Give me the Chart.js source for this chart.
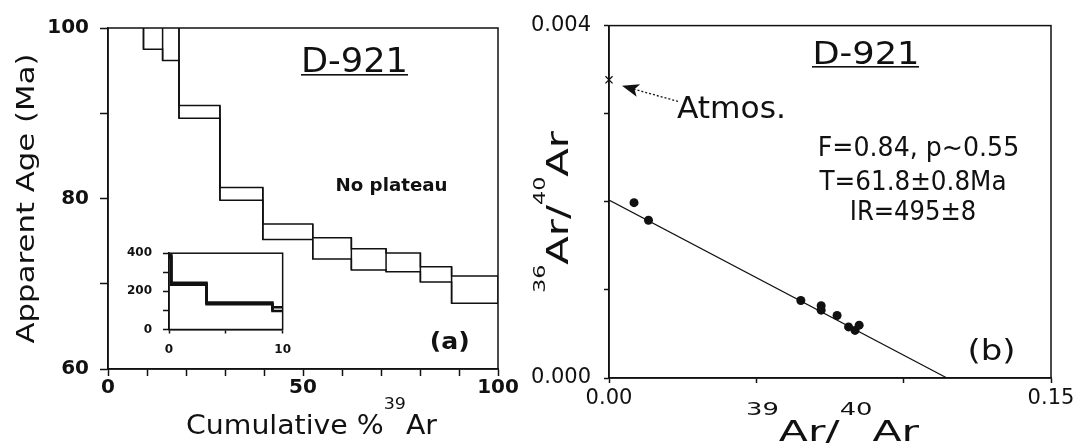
<!DOCTYPE html>
<html>
<head>
<meta charset="utf-8">
<script src="https://cdn.jsdelivr.net/npm/chart.js@4.4.1/dist/chart.umd.min.js"></script>
<style>
    html, body { margin: 0; padding: 0; background: #fff; }
    #wrap { position: relative; width: 1078px; height: 443px; overflow: hidden; }
    canvas { position: absolute; }
</style>
</head>
<body>
<div id="wrap">
    <canvas id="spectrum" width="520" height="443" style="left:0;top:0"></canvas>
    <canvas id="inset" width="190" height="130" style="left:110px;top:235px"></canvas>
    <canvas id="isochron" width="558" height="443" style="left:520px;top:0"></canvas>
</div>
<script>
// Age spectrum: step edges (cumulative %39Ar) and apparent age range (Ma)
const stepEdges = [0, 0.2, 3.3, 9.1, 14.0, 18.2, 28.7, 39.7, 52.5, 62.4, 71.3, 80.1, 88.1, 100];
const ageLow  = [378, 235, 132, 97.5, 96.2, 89.4, 79.8, 75.2, 72.9, 71.6, 71.4, 70.2, 67.7];
const ageHigh = [392, 245, 142, 116, 103, 90.9, 81.3, 77.0, 75.4, 74.1, 73.6, 72.0, 70.9];

// Isochron: 39Ar/40Ar vs 36Ar/40Ar
const ratio39 = [0.0085, 0.0134, 0.0651, 0.0720, 0.0720, 0.0774, 0.0813, 0.0835, 0.0849];
const ratio36 = [0.00199, 0.00179, 0.00088, 0.00082, 0.00077, 0.00071, 0.00058, 0.00054, 0.00060];
const atmosX = [0];
const atmosY = [0.003384];
const fitX = [0, 0.1147];
const fitY = [0.00202, 0];

// Tick labels
const ageLabels = [60, 80, 100];
const cumLabels = [0, 50, 100];
const insetAgeLabels = [0, 200, 400];
const insetCumLabels = [0, 10];
const isoYLabels = [0, 0.004];
const isoXLabels = [0, 0.15];

const INK = '#111';
const FONT = '"DejaVu Sans", sans-serif';

function envelope(values) {
    const pts = values.map((v, i) => ({ x: stepEdges[i], y: v }));
    pts.push({ x: stepEdges[stepEdges.length - 1], y: values[values.length - 1] });
    return pts;
}

// vertical sides of the steps, joining neighbouring boxes
function connectors() {
    const pts = [];
    for (let i = 0; i < stepEdges.length; i++) {
        const lo = [ageLow[i - 1], ageLow[i]].filter(v => v !== undefined);
        const hi = [ageHigh[i - 1], ageHigh[i]].filter(v => v !== undefined);
        pts.push({ x: stepEdges[i], y: Math.min(...lo) });
        pts.push({ x: stepEdges[i], y: Math.max(...hi) });
        pts.push({ x: stepEdges[i], y: null });
    }
    return pts;
}

function spectrumSets(width) {
    const base = { borderColor: INK, borderWidth: width, pointRadius: 0, fill: false, tension: 0 };
    return [
        { ...base, data: envelope(ageHigh), stepped: 'before' },
        { ...base, data: envelope(ageLow), stepped: 'before' },
        { ...base, data: connectors(), spanGaps: false }
    ];
}

function axis(min, max, step, labels, fmt, o) {
    return {
        type: 'linear', min: min, max: max,
        afterFit: s => { if (s.isHorizontal()) s.height = o.fit; else s.width = o.fit; },
        ticks: {
            stepSize: step, autoSkip: false, maxRotation: 0, padding: o.pad, color: INK,
            font: { family: 'DejaVu Sans', size: o.size, weight: o.weight || 'normal' },
            callback: v => labels.some(l => Math.abs(l - v) < step / 100) ? fmt(v) : ''
        },
        grid: { drawOnChartArea: false, tickLength: o.tick, tickWidth: 1.5, tickColor: INK },
        border: { color: INK, width: 1.5 }
    };
}

// text stretched to a measured width, with optional superscripts and rotation
function drawText(ctx, parts, x, y, o) {
    ctx.save();
    ctx.translate(x, y);
    if (o.rotate) ctx.rotate(o.rotate);
    const runs = parts.map(p => {
        const font = `${o.weight || 'normal'} ${p.sup ? o.supSize : o.size}px ${FONT}`;
        ctx.font = font;
        return { text: p.text, sup: p.sup, font: font, w: ctx.measureText(p.text).width };
    });
    const total = runs.reduce((s, r) => s + r.w, 0);
    ctx.scale(o.width / total, 1);
    ctx.fillStyle = INK;
    ctx.textAlign = 'left';
    ctx.textBaseline = 'alphabetic';
    let cx = -total / 2;
    runs.forEach(r => {
        ctx.font = r.font;
        ctx.fillText(r.text, cx, r.sup ? -o.raise : 0);
        cx += r.w;
    });
    ctx.restore();
}

const t = s => [{ text: s }];

function framePlugin(notes) {
    return {
        id: 'frame',
        afterDraw(chart) {
            const ctx = chart.ctx;
            const a = chart.chartArea;
            ctx.save();
            ctx.strokeStyle = INK;
            ctx.lineWidth = 1.5;
            ctx.strokeRect(a.left, a.top, a.right - a.left, a.bottom - a.top);
            ctx.restore();
            if (notes) notes(chart, ctx);
        }
    };
}

const common = {
    responsive: false,
    animation: false,
    events: [],
    plugins: { legend: { display: false }, tooltip: { enabled: false } }
};

// (a) age spectrum
new Chart(document.getElementById('spectrum'), {
    type: 'line',
    data: { datasets: spectrumSets(1.5) },
    options: {
        ...common,
        layout: { padding: { left: 0, right: 22, top: 28, bottom: 0 } },
        scales: {
            x: axis(0, 100, 10, cumLabels, v => String(v), { fit: 74, size: 20, weight: 'bold', tick: 7, pad: 0 }),
            y: axis(60, 100, 10, ageLabels, v => String(v), { fit: 108, size: 20, weight: 'bold', tick: 8, pad: 11 })
        }
    },
    plugins: [framePlugin((chart, ctx) => {
        drawText(ctx, t('D-921'), 354.5, 71.5, { size: 34, width: 107 });
        ctx.fillStyle = INK;
        ctx.fillRect(301, 74, 107, 1.6);
        drawText(ctx, t('No plateau'), 391.5, 190.5, { size: 17, weight: 'bold', width: 112 });
        drawText(ctx, t('(a)'), 449.7, 348.5, { size: 23, weight: 'bold', width: 40 });
        drawText(ctx, t('Apparent Age (Ma)'), 34, 198.5, { size: 24, width: 290, rotate: -Math.PI / 2 });
        drawText(ctx, [{ text: 'Cumulative %' }, { text: '39', sup: true }, { text: 'Ar' }], 311.5, 434,
            { size: 26, supSize: 16, raise: 25, width: 251 });
    })]
});

// inset: whole spectrum on a 0-400 Ma scale
new Chart(document.getElementById('inset'), {
    type: 'line',
    data: { datasets: spectrumSets(2.5) },
    options: {
        ...common,
        layout: { padding: { left: 0, right: 14, top: 15, bottom: 0 } },
        scales: {
            x: axis(0, 10, 5, insetCumLabels, v => String(v), { fit: 35.5, size: 12, weight: 'bold', tick: 4, pad: 9 }),
            y: axis(0, 400, 100, insetAgeLabels, v => String(v), { fit: 59, size: 12, weight: 'bold', tick: 6, pad: 11 })
        }
    },
    plugins: [framePlugin()]
});

// (b) inverse isochron
new Chart(document.getElementById('isochron'), {
    type: 'scatter',
    data: {
        datasets: [
            {
                data: fitX.map((x, i) => ({ x: x, y: fitY[i] })),
                showLine: true, borderColor: INK, borderWidth: 1.2, pointRadius: 0
            },
            {
                data: ratio39.map((x, i) => ({ x: x, y: ratio36[i] })),
                pointRadius: 4.5, pointBackgroundColor: INK, pointBorderWidth: 0
            },
            {
                data: atmosX.map((x, i) => ({ x: x, y: atmosY[i] })),
                pointStyle: 'crossRot', pointRadius: 5, pointBorderColor: INK, pointBorderWidth: 1.3, clip: false
            }
        ]
    },
    options: {
        ...common,
        layout: { padding: { left: 0, right: 27, top: 23, bottom: 0 } },
        scales: {
            x: axis(0, 0.15, 0.05, isoXLabels, v => v.toFixed(2), { fit: 65, size: 21, tick: 5, pad: 3 }),
            y: axis(0, 0.004, 0.001, isoYLabels, v => v.toFixed(3), { fit: 89, size: 21, tick: 5, pad: 13 })
        }
    },
    plugins: [framePlugin((chart, ctx) => {
        drawText(ctx, t('D-921'), 346, 63.5, { size: 32, width: 107 });
        ctx.fillStyle = INK;
        ctx.fillRect(292, 66, 107, 1.6);

        // arrow pointing at the atmospheric ratio
        const px = chart.scales.x.getPixelForValue(atmosX[0]);
        const py = chart.scales.y.getPixelForValue(atmosY[0]);
        const tip = { x: px + 13, y: py + 6 };
        const tail = { x: px + 69, y: py + 21.5 };
        const ang = Math.atan2(tail.y - tip.y, tail.x - tip.x);
        ctx.save();
        ctx.strokeStyle = INK;
        ctx.lineWidth = 1.3;
        ctx.setLineDash([2, 2]);
        ctx.beginPath();
        ctx.moveTo(tail.x, tail.y);
        ctx.lineTo(tip.x + 12 * Math.cos(ang), tip.y + 12 * Math.sin(ang));
        ctx.stroke();
        ctx.setLineDash([]);
        ctx.translate(tip.x, tip.y);
        ctx.rotate(ang);
        ctx.fillStyle = INK;
        ctx.beginPath();
        ctx.moveTo(0, 0);
        ctx.lineTo(17, -6.5);
        ctx.lineTo(13, 0);
        ctx.lineTo(17, 6.5);
        ctx.closePath();
        ctx.fill();
        ctx.restore();

        drawText(ctx, t('Atmos.'), 211.5, 117.7, { size: 30, width: 109 });
        drawText(ctx, t('F=0.84, p~0.55'), 398.5, 156, { size: 27, width: 201.5 });
        drawText(ctx, t('T=61.8±0.8Ma'), 393, 190, { size: 27, width: 187 });
        drawText(ctx, t('IR=495±8'), 393, 220, { size: 27, width: 126.5 });
        drawText(ctx, t('(b)'), 471.6, 360, { size: 29, width: 48 });
        drawText(ctx, [{ text: '36', sup: true }, { text: 'Ar/' }, { text: '40', sup: true }, { text: 'Ar' }],
            48, 212, { size: 30, supSize: 16, raise: 23, width: 162, rotate: -Math.PI / 2 });
        drawText(ctx, [{ text: '39', sup: true }, { text: 'Ar/' }, { text: '40', sup: true }, { text: 'Ar' }],
            312.5, 441, { size: 28, supSize: 17, raise: 26, width: 173 });
    })]
});
</script>
</body>
</html>
